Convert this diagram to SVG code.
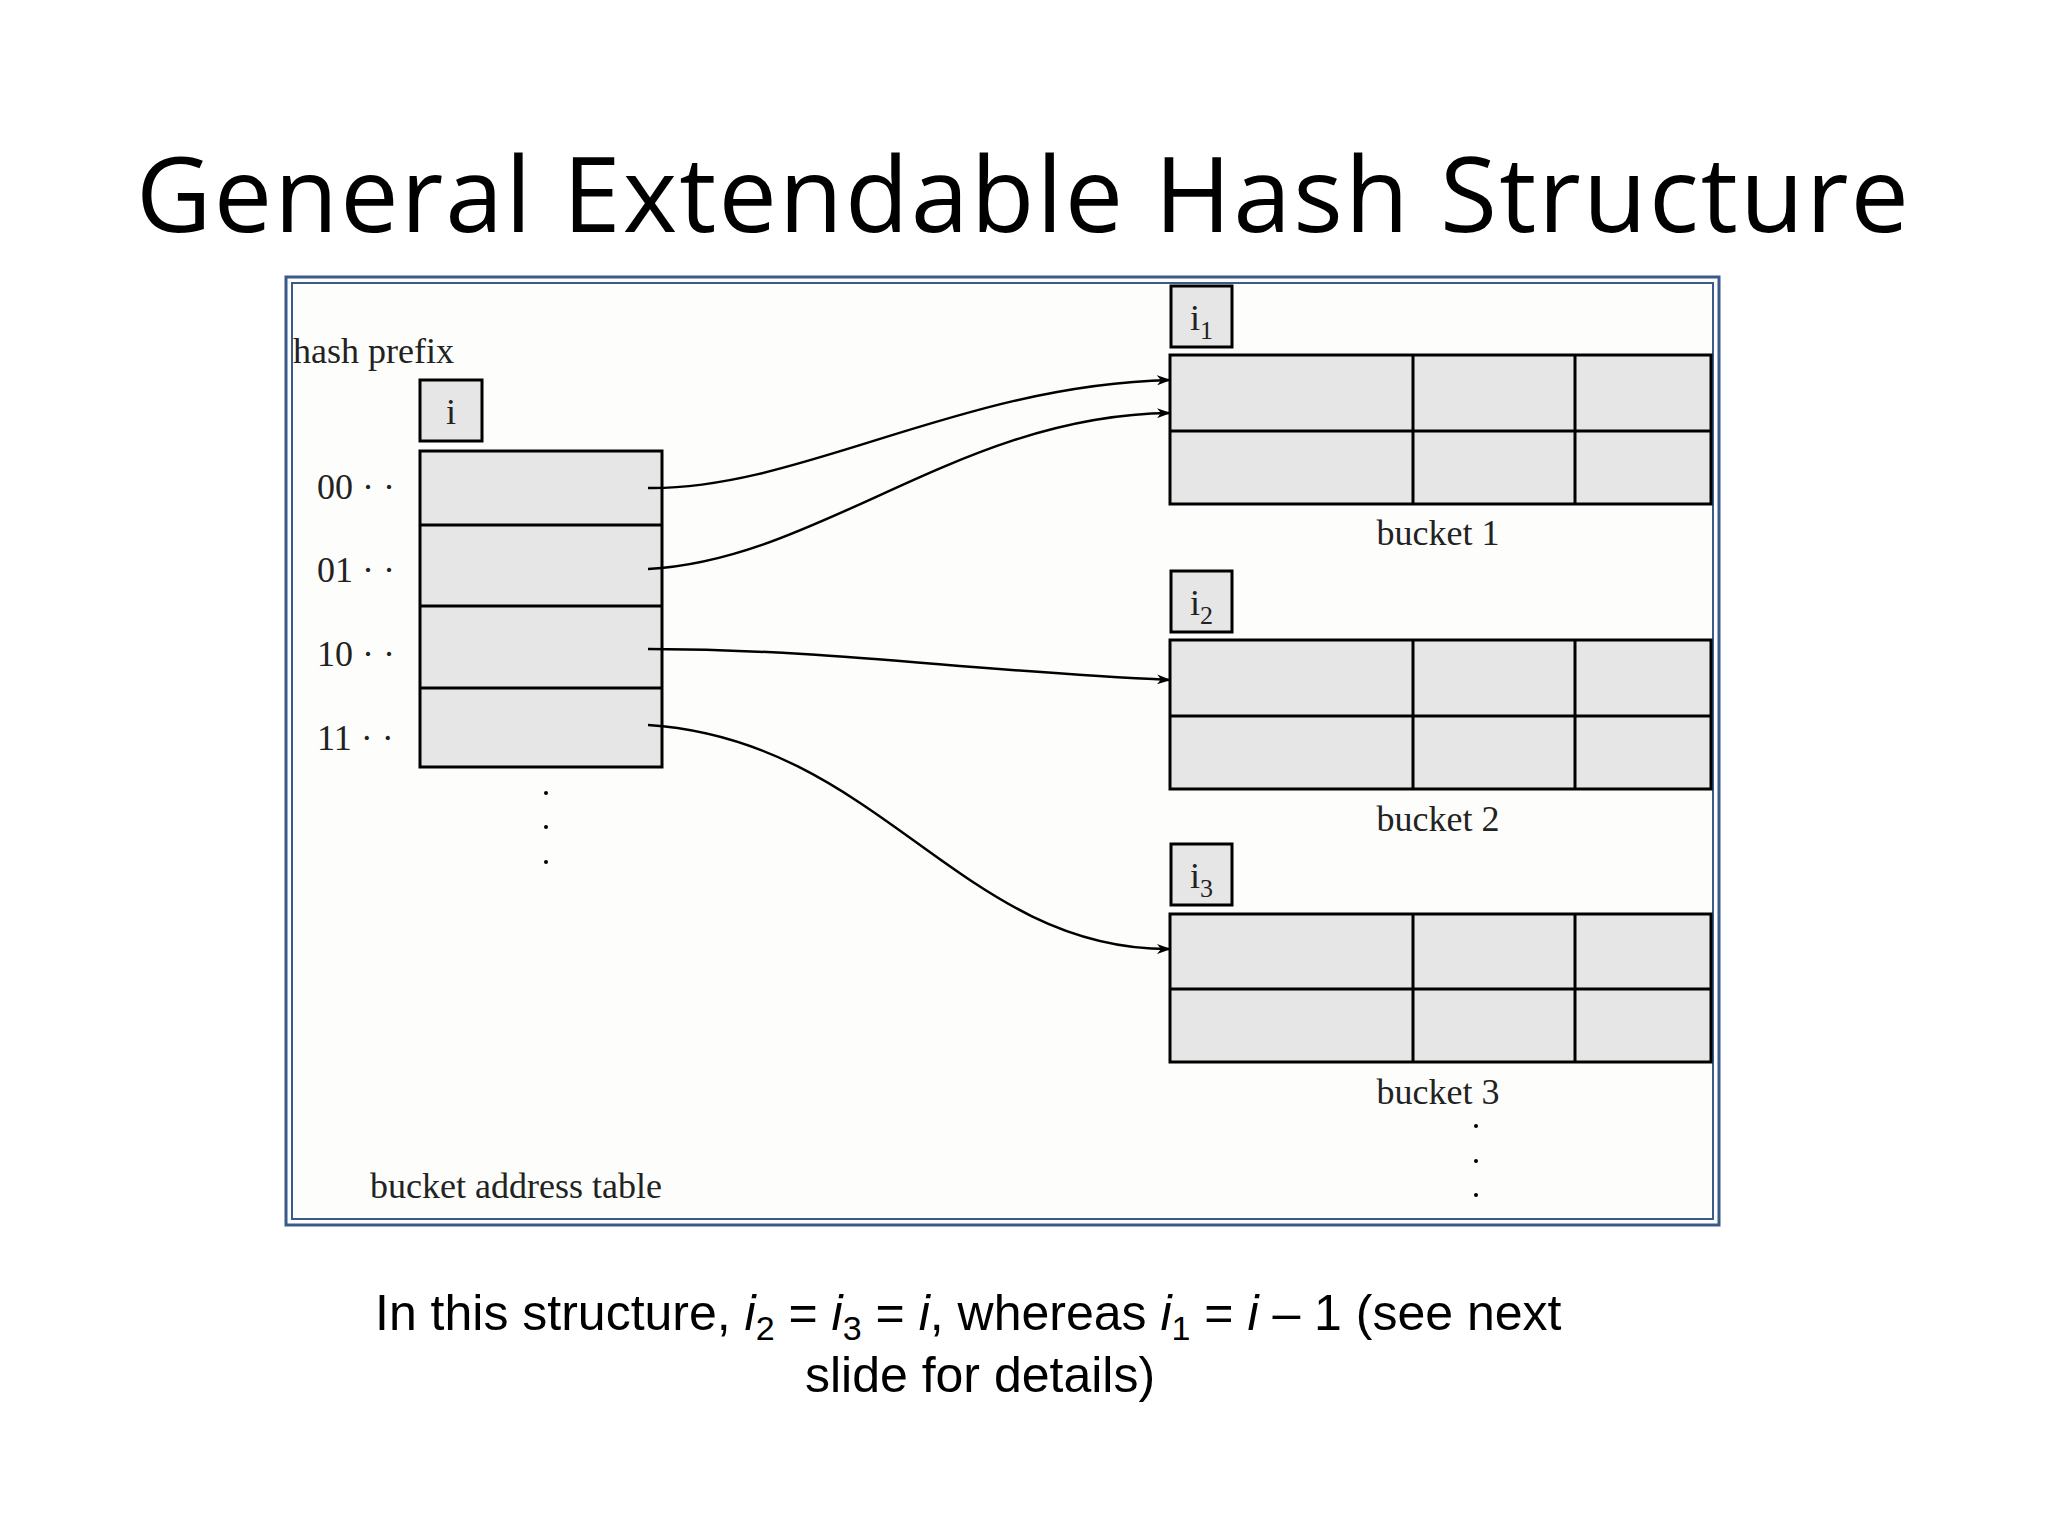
<svg xmlns="http://www.w3.org/2000/svg" width="2048" height="1536" viewBox="0 0 2048 1536">
<defs>
<marker id="ah" markerWidth="14" markerHeight="10" refX="13" refY="5" orient="auto" markerUnits="userSpaceOnUse"><path d="M0,0 L14,5 L0,10 L4,5 Z" fill="#000"/></marker>
<style>
.t{font-family:"Liberation Serif",serif;fill:#222}
.c{fill:#e6e6e6;stroke:#000;stroke-width:3}
.l{stroke:#000;stroke-width:3}
.a{fill:none;stroke:#000;stroke-width:2.5;marker-end:url(#ah)}
.cap{font-family:"Liberation Sans",Arial,sans-serif;font-size:50px;fill:#000}
</style>
</defs>
<rect width="2048" height="1536" fill="#fff"/>
<text x="136" y="232" font-family="Open Sans,sans-serif" font-size="104" textLength="1773" fill="#000">General Extendable Hash Structure</text>
<rect x="286" y="277" width="1433" height="948" fill="#fdfdfb" stroke="#3a5a8c" stroke-width="3"/>
<rect x="292" y="283" width="1421" height="936" fill="none" stroke="#3a5a8c" stroke-width="2"/>
<text class="t" x="293" y="363" font-size="36">hash prefix</text>
<g id="table">
<rect class="c" x="420" y="380" width="62" height="61"/><text class="t" x="451" y="424" font-size="36" text-anchor="middle">i</text>
<rect class="c" x="420" y="451" width="242" height="316"/>
<line class="l" x1="420" y1="525" x2="662" y2="525"/><line class="l" x1="420" y1="606" x2="662" y2="606"/><line class="l" x1="420" y1="688" x2="662" y2="688"/>
<text class="t" x="317" y="499" font-size="36">00 · ·</text>
<text class="t" x="317" y="582" font-size="36">01 · ·</text>
<text class="t" x="317" y="666" font-size="36">10 · ·</text>
<text class="t" x="317" y="750" font-size="36">11 · ·</text>
<circle cx="546" cy="793" r="2"/><circle cx="546" cy="827" r="2"/><circle cx="546" cy="862" r="2"/>
<text class="t" x="370" y="1198" font-size="36">bucket address table</text>
</g>
<g id="bucket1">
<rect class="c" x="1171" y="286" width="61" height="61"/><text class="t" x="1190" y="330" font-size="36">i<tspan font-size="26" dy="9">1</tspan></text>
<rect class="c" x="1170" y="355" width="541" height="149"/>
<line class="l" x1="1170" y1="431" x2="1711" y2="431"/><line class="l" x1="1413" y1="355" x2="1413" y2="504" stroke-width="2"/><line class="l" x1="1575" y1="355" x2="1575" y2="504"/>
<text class="t" x="1438" y="545" font-size="36" text-anchor="middle">bucket 1</text>
</g>
<g id="bucket2">
<rect class="c" x="1171" y="571" width="61" height="61"/><text class="t" x="1190" y="615" font-size="36">i<tspan font-size="26" dy="9">2</tspan></text>
<rect class="c" x="1170" y="640" width="541" height="149"/>
<line class="l" x1="1170" y1="716" x2="1711" y2="716"/><line class="l" x1="1413" y1="640" x2="1413" y2="789" stroke-width="2"/><line class="l" x1="1575" y1="640" x2="1575" y2="789"/>
<text class="t" x="1438" y="831" font-size="36" text-anchor="middle">bucket 2</text>
</g>
<g id="bucket3">
<rect class="c" x="1171" y="844" width="61" height="61"/><text class="t" x="1190" y="888" font-size="36">i<tspan font-size="26" dy="9">3</tspan></text>
<rect class="c" x="1170" y="914" width="541" height="148"/>
<line class="l" x1="1170" y1="989" x2="1711" y2="989"/><line class="l" x1="1413" y1="914" x2="1413" y2="1062" stroke-width="2"/><line class="l" x1="1575" y1="914" x2="1575" y2="1062"/>
<text class="t" x="1438" y="1104" font-size="36" text-anchor="middle">bucket 3</text>
<circle cx="1476" cy="1126" r="2"/><circle cx="1476" cy="1161" r="2"/><circle cx="1476" cy="1195" r="2"/>
</g>
<g id="connectors">
<path class="a" d="M648,488 C800,490 960,385 1170,380"/>
<path class="a" d="M648,569 C820,560 960,415 1170,413"/>
<path class="a" d="M648,649 C850,650 950,670 1170,680"/>
<path class="a" d="M648,725 C880,740 960,950 1170,949"/>
</g>
<text class="cap" x="375" y="1330">In this structure, <tspan font-style="italic">i</tspan><tspan font-size="34" dy="10">2</tspan><tspan dy="-10"> = </tspan><tspan font-style="italic">i</tspan><tspan font-size="34" dy="10">3</tspan><tspan dy="-10"> = </tspan><tspan font-style="italic">i</tspan>, whereas <tspan font-style="italic">i</tspan><tspan font-size="34" dy="10">1</tspan><tspan dy="-10"> = </tspan><tspan font-style="italic">i</tspan> – 1 (see next</text>
<text class="cap" x="980" y="1392" text-anchor="middle">slide for details)</text>
</svg>
